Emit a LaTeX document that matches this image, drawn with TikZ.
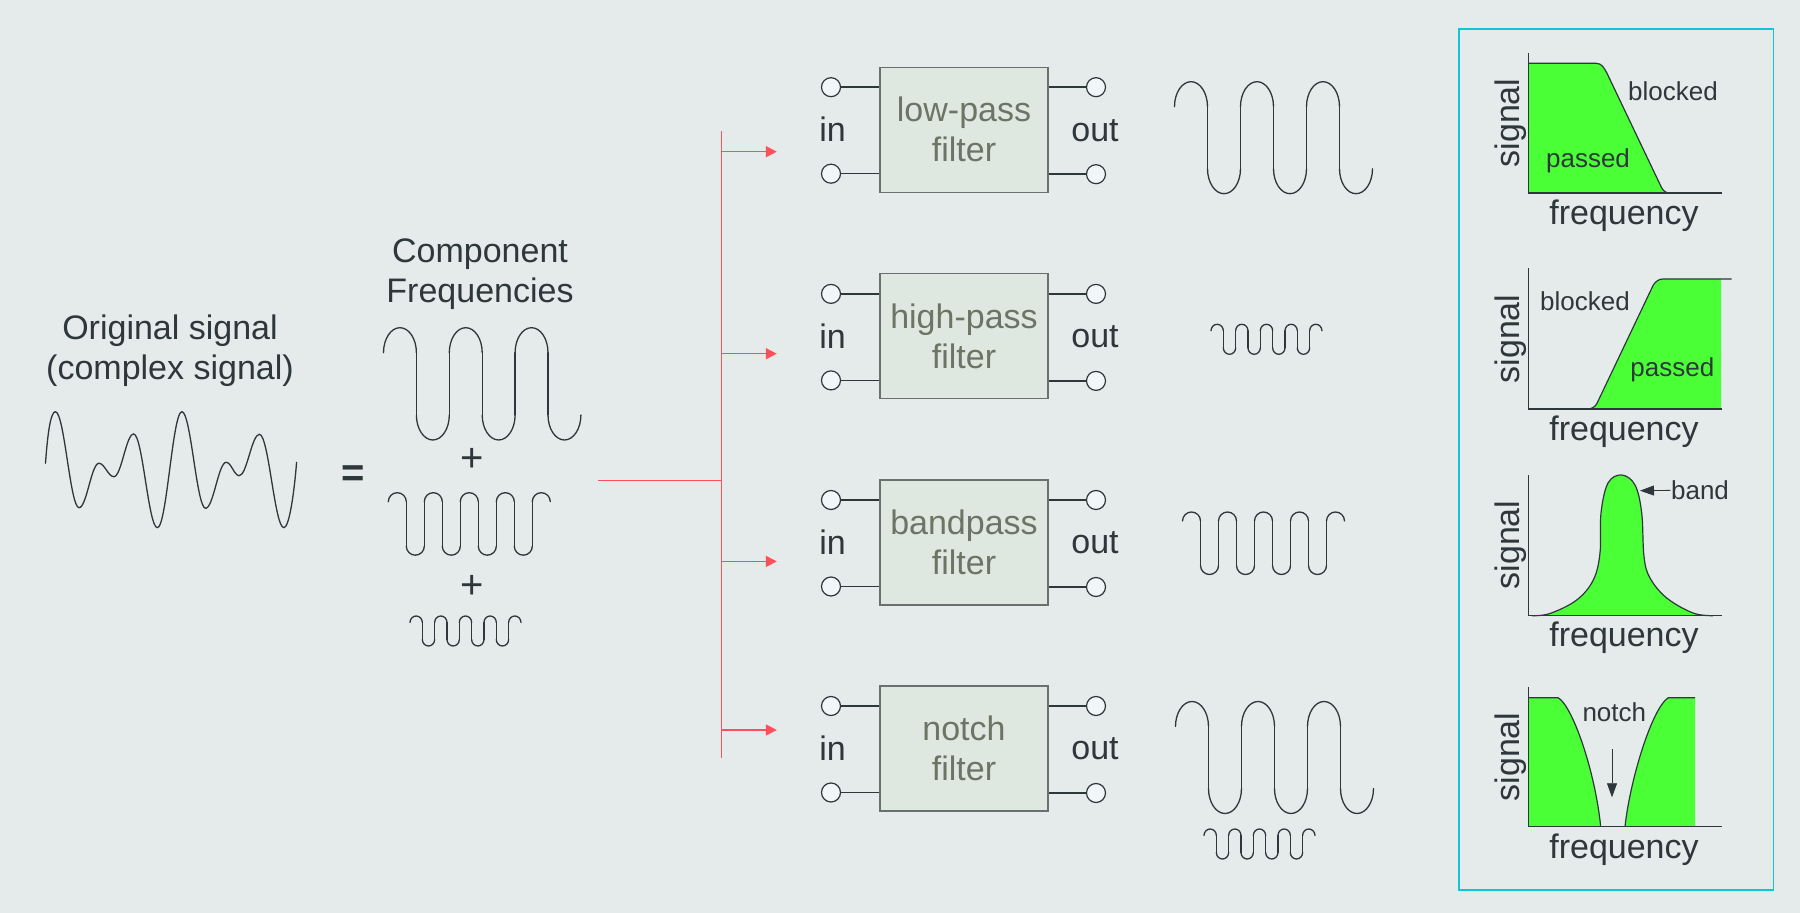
\documentclass[tikz,border=0pt]{standalone}
\usepackage{fontspec}
\setmainfont{Liberation Sans}
\usetikzlibrary{arrows.meta}

\definecolor{pagebg}{HTML}{E5EAEA}
\definecolor{inkdark}{HTML}{2E373C}
\definecolor{boxfill}{HTML}{DFE8E0}
\definecolor{boxtext}{HTML}{6C7565}
\definecolor{boxedge}{HTML}{687070}
\definecolor{portfill}{HTML}{F1F7F9}
\definecolor{feedred}{HTML}{FF4F58}
\definecolor{passgreen}{HTML}{4AFF36}
\definecolor{panelcyan}{HTML}{12C3E0}

\tikzset{
    biglabel/.style={font=\fontsize{17}{20}\selectfont, text=inkdark, align=center, inner sep=0pt},
    smalllabel/.style={font=\fontsize{13}{15}\selectfont, text=inkdark, inner sep=0pt},
    filterbox/.style={draw=boxedge, fill=boxfill, line width=0.6pt, minimum width=84pt, minimum height=62.5pt,
        inner sep=0pt, align=center, text=boxtext, font=\fontsize{17}{20}\selectfont},
    port/.style={circle, draw=inkdark, fill=portfill, line width=0.6pt, minimum size=9.5pt, inner sep=0pt},
    lead/.style={inkdark, line width=0.8pt},
    wavepen/.style={inkdark, line width=0.65pt, line cap=round},
    axisline/.style={inkdark, line width=0.8pt},
    curveline/.style={inkdark, line width=0.6pt},
    feedline/.style={feedred, line width=0.8pt},
    feedarrow/.style={feedred, line width=0.8pt, -{Triangle[length=5.5pt,width=5.5pt]}},
    notearrow/.style={inkdark, line width=0.4pt, -{Triangle[length=7pt,width=5pt]}}
}

% x start, y of arc ends, half period, arc height, straight run, number of half periods
\newcommand{\wavetrain}[6]{
    \foreach \k in {1,...,#6} {
        \pgfmathsetmacro{\xa}{#1+(\k-1)*#3}
        \ifodd\k
            \draw[wavepen] (\xa,#2) arc[start angle=180, end angle=360, x radius=#3/2, y radius=#4];
        \else
            \draw[wavepen] (\xa,#2+#5) arc[start angle=180, end angle=0, x radius=#3/2, y radius=#4];
        \fi
        \ifnum\k<#6
            \draw[wavepen] (\xa+#3,#2) -- (\xa+#3,#2+#5);
        \fi
    }
}

\begin{document}
\begin{tikzpicture}[x=0.5pt, y=-0.5pt]
    \fill[pagebg] (0,0) rectangle (1800,913);
    \useasboundingbox (0,0) rectangle (1800,913);

    % Left side labels
    \node[biglabel] (orig) at (170,350.5) {Original signal\\(complex signal)};
    \node[biglabel] (comp) at (480,274.5) {Component\\Frequencies};
    \node[font=\bfseries\fontsize{20}{22}\selectfont, text=inkdark, inner sep=0pt] (equals) at (352.7,476) {=};
    \node[font=\fontsize{20}{22}\selectfont, text=inkdark, inner sep=0pt] (plusA) at (471.7,459.5) {+};
    \node[font=\fontsize{20}{22}\selectfont, text=inkdark, inner sep=0pt] (plusB) at (471.7,587) {+};

    % Complex signal
    \draw[wavepen] (45.5,463.3) .. controls (47.5,435) and (50.5,411.7) .. (55.4,411.7);
    \foreach \xb/\yb [remember=\xb as \xl (initially 55.4), remember=\yb as \yl (initially 411.7)] in
        {79.1/507.7, 98.9/463.3, 113.9/476.7, 133.6/434, 157.4/527.7, 181.9/411.7,
         205.6/508.3, 226.2/462.3, 239.2/475.7, 259.4/434.3, 283.9/527.7}
        \draw[wavepen] (\xl,\yl) .. controls ({\xl+0.38*(\xb-\xl)},\yl) and ({\xb-0.38*(\xb-\xl)},\yb) .. (\xb,\yb);
    \draw[wavepen] (283.9,527.7) .. controls (289,527.7) and (294,495) .. (296.6,462.3);

    % Component waves
    \wavetrain{383.5}{352.7}{32.9}{25}{62.3}{6}
    \wavetrain{388.3}{501.7}{18}{9}{44.5}{9}
    \wavetrain{410}{622.5}{12.33}{6.5}{17}{9}

    % Red feed lines
    \coordinate (feed) at (598,480.6);
    \coordinate (spinetop) at (721.4,131);
    \coordinate (spinebot) at (721.4,757.7);
    \draw[feedline] (feed) -- (feed -| spinetop);
    \draw[feedline] (spinetop) -- (spinebot);
    \foreach \k/\y in {1/151.7, 2/353.7, 3/561.4, 4/730} {
        \coordinate (tip\k) at (776.8,\y);
        \draw[feedarrow] (tip\k -| spinetop) -- (tip\k);
    }

    % Filter rows
    \foreach \k/\y/\name in {1/130.2/low-pass, 2/336.9/high-pass, 3/543/bandpass, 4/749/notch} {
        \node[filterbox] (box\k) at (964,\y-0.5) {\name\\filter};
        \node[port] (inA\k) at (831,\y-43) {};
        \node[port] (inB\k) at (831,\y+43.5) {};
        \node[port] (outA\k) at (1096,\y-43) {};
        \node[port] (outB\k) at (1096,\y+44) {};
        \node[biglabel] (in\k) at (832.5,\y-1) {in};
        \node[biglabel] (out\k) at (1095,\y) {out};
        \draw[lead] (inA\k) -- (inA\k -| box\k.west);
        \draw[lead] (inB\k) -- (inB\k -| box\k.west);
        \draw[lead] (outA\k) -- (outA\k -| box\k.east);
        \draw[lead] (outB\k) -- (outB\k -| box\k.east);
    }

    % Filter outputs
    \wavetrain{1174.5}{106.7}{33}{25}{62}{6}
    \wavetrain{1211}{330.8}{12.33}{6.5}{17}{9}
    \wavetrain{1182.5}{521}{18}{9}{44.5}{9}
    \wavetrain{1175.5}{726.5}{33}{25}{62}{6}
    \wavetrain{1204}{835.5}{12.33}{6.5}{17}{9}

    % Response panel
    \draw[panelcyan, line width=0.8pt] (1459,29) rectangle (1773.3,890);

    % Low-pass response
    \def\lowcurve{(1528.3,63.3) -- (1596,63.3) .. controls (1602,63.3) and (1604,68) .. (1607,73.3) -- (1661.7,188)
        .. controls (1664,192) and (1667,193.3) .. (1672,193.3)}
    \fill[passgreen] \lowcurve -- (1528.3,193.3) -- cycle;
    \draw[curveline] \lowcurve;
    \draw[axisline] (1528.3,53.3) -- (1528.3,193.3) -- (1721.7,193.3);
    \node[smalllabel] (blockedA) at (1673,91) {blocked};
    \node[smalllabel] (passedA) at (1588,161) {passed};
    \node[biglabel] (freqA) at (1624,216) {frequency};
    \node[biglabel, rotate=90] (sigA) at (1511,123) {signal};

    % High-pass response
    \def\highcurve{(1587,409) .. controls (1592,409) and (1595,407) .. (1597,403.3) -- (1653.3,285)
        .. controls (1656,281) and (1659,279) .. (1663.3,279)}
    \fill[passgreen] \highcurve -- (1721,279) -- (1721,409) -- cycle;
    \draw[curveline] \highcurve -- (1731.7,279);
    \draw[axisline] (1528.3,268) -- (1528.3,409.3) -- (1721.7,409.3);
    \node[smalllabel] (blockedB) at (1585,301.7) {blocked};
    \node[smalllabel] (passedB) at (1672.3,369.3) {passed};
    \node[biglabel] (freqB) at (1624,432) {frequency};
    \node[biglabel, rotate=90] (sigB) at (1511,339) {signal};

    % Bandpass response
    \def\bandcurve{plot[smooth, tension=0.6] coordinates {(1532,615.7) (1550,613.5) (1576.7,600) (1593.3,580) (1600,553)
        (1601,513) (1608,483) (1621.7,475) (1635,485) (1641.7,513) (1644,556.7) (1650,578)
        (1666.7,598) (1693,613) (1713,615.7)}}
    \fill[passgreen] \bandcurve -- cycle;
    \draw[curveline] \bandcurve;
    \draw[axisline] (1528.3,475) -- (1528.3,615.7) -- (1721.7,615.7);
    \node[smalllabel] (bandlbl) at (1700,490) {band};
    \coordinate (bandtip) at (1640,490.7);
    \draw[notearrow] (bandlbl) -- (bandtip);
    \node[biglabel] (freqC) at (1624,638) {frequency};
    \node[biglabel, rotate=90] (sigC) at (1511,545) {signal};

    % Notch response
    \def\notchleft{(1528.3,697.7) -- (1558,697.7) .. controls (1572,705) and (1595,770) .. (1600.7,826.7)}
    \def\notchright{(1625,826.7) .. controls (1630,780) and (1652,708) .. (1668.3,697.7) -- (1695,697.7)}
    \fill[passgreen] \notchleft -- (1528.3,826.7) -- cycle;
    \fill[passgreen] \notchright -- (1695,826.7) -- cycle;
    \draw[curveline] \notchleft;
    \draw[curveline] \notchright;
    \draw[axisline] (1528.3,686.7) -- (1528.3,826.7) -- (1721.7,826.7);
    \node[smalllabel] (notchlbl) at (1614.3,712) {notch};
    \coordinate (notchtop) at (1612,749.3);
    \coordinate (notchtip) at (1612,797.3);
    \draw[notearrow] (notchtop) -- (notchtip);
    \node[biglabel] (freqD) at (1624,850) {frequency};
    \node[biglabel, rotate=90] (sigD) at (1511,757) {signal};
\end{tikzpicture}
\end{document}
